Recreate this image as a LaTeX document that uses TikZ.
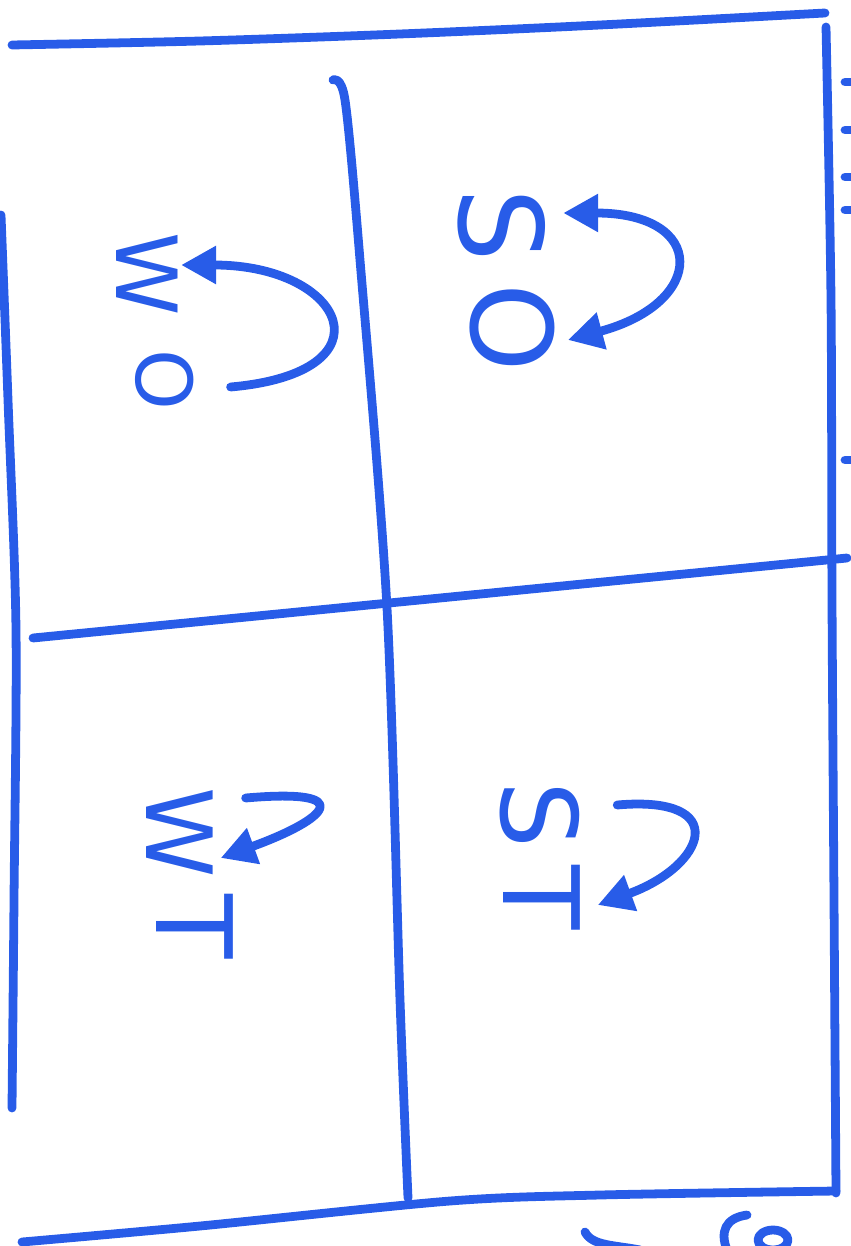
\documentclass[tikz,border=0pt]{standalone}
\usepackage{fontspec}
\setmainfont{DejaVu Sans}
\usepackage{graphicx}
\usetikzlibrary{arrows.meta}

\definecolor{ink}{RGB}{40,92,232}

\tikzset{
    pen/.style={draw=ink, line width=5pt, line cap=round, line join=round},
    arr/.style={pen, -{Triangle[length=0.7cm,width=0.72cm]}},
    arrs/.style={pen, {Triangle[length=0.7cm,width=0.72cm]}-{Triangle[length=0.7cm,width=0.72cm]}},
    letter/.style={text=ink, inner sep=0pt},
}

% letter turned on its side
\newcommand{\turned}[2]{\fontsize{#1}{#1}\selectfont\rotatebox{-90}{#2}}

\begin{document}
\begin{tikzpicture}[x=0.02cm, y=-0.02cm]
    \useasboundingbox (0,0) rectangle (850,1246);

    % Frame
    \draw[pen] plot[smooth] coordinates {(12,45) (200,41) (400,34) (600,25) (825,13)};
    \draw[pen] plot[smooth] coordinates {(826,27) (831,300) (832,600) (834,900) (836,1193)};
    \draw[pen] plot[smooth] coordinates {(22,1242) (200,1226) (450,1201) (600,1195) (836,1191)};
    \draw[pen] plot[smooth] coordinates {(1,215) (8,400) (16,630) (14,900) (12,1108)};

    % Cross
    \draw[pen] plot[smooth] coordinates {(333,80) (345,100) (360,260) (387,608) (400,1000) (408,1198)};
    \draw[pen] (33,638) -- (847,558);

    % Top left
    \node[letter] (tlW) at (147,274) {\turned{48}{W}};
    \node[letter] (tlO) at (165,380) {\turned{44}{O}};
    \draw[arr] ([shift={(36,7)}]tlO.east) to[out=5, in=0, looseness=3.2] ([shift={(3,-9)}]tlW.east);

    % Top right
    \node[letter] (trS) at (502,225) {\turned{66}{S}};
    \node[letter] (trO) at (512,328) {\turned{64}{O}};
    \draw[arrs] ([shift={(17,-12)}]trS.east) to[out=0, in=15, looseness=2.9] ([shift={(13,12)}]trO.east);

    % Bottom left
    \node[letter] (blW) at (180,833) {\turned{52}{W}};
    \node[letter] (blT) at (195,927) {\turned{60}{T}};
    \draw[arr] ([shift={(32,-35)}]blW.east) to[out=5, in=20, looseness=4.5] ([shift={(7,25)}]blW.east);

    % Bottom right
    \node[letter] (brS) at (540,815) {\turned{60}{S}};
    \node[letter] (brT) at (542,898) {\turned{60}{T}};
    \draw[arr] ([shift={(37,-10)}]brS.east) to[out=5, in=20, looseness=2.9] ([shift={(17,7)}]brT.east);

    % Cut-off writing at the edges
    \foreach \y in {82,130,177,210,460} {
        \draw[pen] (845,\y) -- (851,\y);
    }
    \draw[pen] (585,1232) .. controls (592,1246) and (615,1245) .. (640,1250);
    \draw[pen] (747,1215) .. controls (725,1218) and (720,1232) .. (727,1250);
    \draw[pen] (773,1240) ellipse [x radius=15, y radius=10];
\end{tikzpicture}
\end{document}
